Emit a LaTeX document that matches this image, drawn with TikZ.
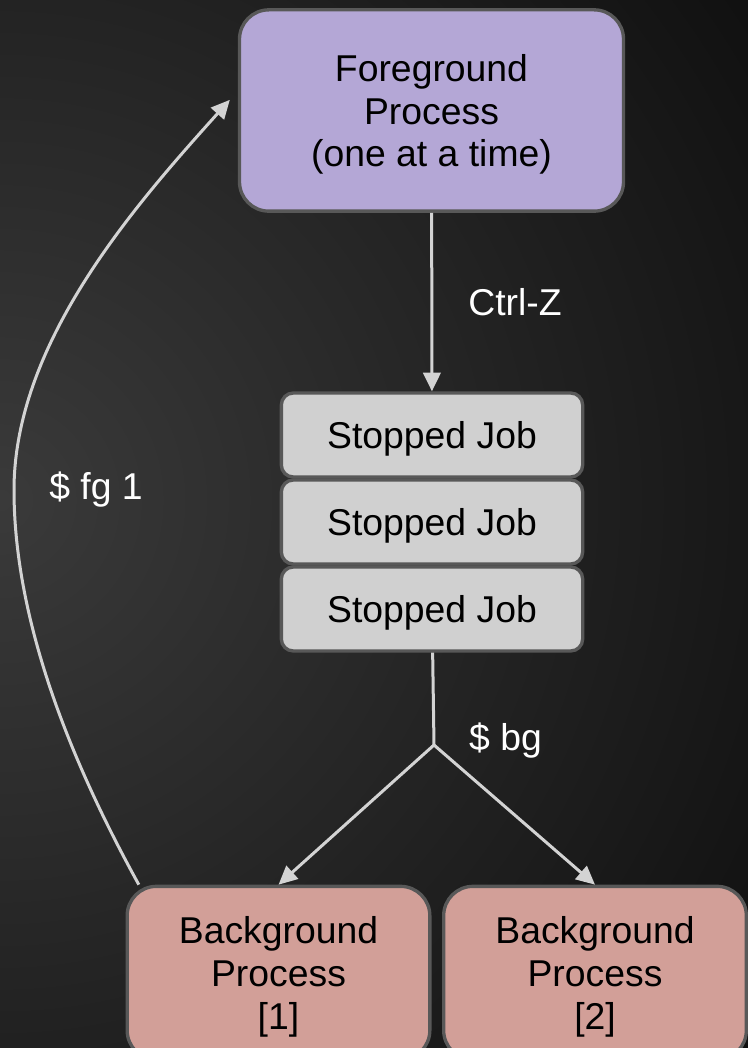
\documentclass[tikz,border=0pt]{standalone}
\usepackage{fontspec}
\setmainfont{Liberation Sans}
\usetikzlibrary{arrows.meta}

\definecolor{fgfill}{HTML}{B4A7D6}
\definecolor{bgfill}{HTML}{D29F98}
\definecolor{jobfill}{HTML}{D0D0D0}
\definecolor{edgegray}{HTML}{585858}
\definecolor{wire}{HTML}{D3D3D3}
\definecolor{shadein}{HTML}{3A3A3A}
\definecolor{shadeout}{HTML}{0C0C0C}

\begin{document}
\begin{tikzpicture}[x=0.75pt,y=-0.75pt,
    bigfont/.style={font=\fontsize{28}{32}\selectfont},
    box/.style={draw=edgegray,line width=2.5pt,rectangle,align=center,inner sep=0pt,text depth=0pt,bigfont},
    fgbox/.style={box,fill=fgfill,rounded corners=22pt,minimum width=288pt,minimum height=151pt},
    jobbox/.style={box,fill=jobfill,rounded corners=9pt,minimum width=226pt,minimum height=63pt},
    bgbox/.style={box,fill=bgfill,rounded corners=22pt,minimum width=227pt,minimum height=130pt},
    wireline/.style={draw=wire,line width=2.25pt},
    arrow/.style={wireline,-{Triangle[length=14pt,width=13pt]}},
    lbl/.style={text=white,anchor=west,bigfont}]
    \useasboundingbox (0,0) rectangle (748,1048);
    % background
    \begin{scope}
      \clip (0,0) rectangle (748,1048);
      \fill[shadeout] (0,0) rectangle (748,1048);
      \shade[inner color=shadein,outer color=shadeout] (0,500) circle (1000);
    \end{scope}

    \node[fgbox] (fg) at (431.5,110.5) {Foreground\\Process\\(one at a time)};
    \node[jobbox] (job1) at (432,435) {Stopped Job};
    \node[jobbox] (job2) at (432,522) {Stopped Job};
    \node[jobbox] (job3) at (432,609) {Stopped Job};
    \node[bgbox] (bg1) at (278.5,973) {Background\\Process\\{[1]}};
    \node[bgbox] (bg2) at (595,973) {Background\\Process\\{[2]}};
    \coordinate (branch) at (434,745);

    \draw[arrow] (fg) -- (job1) node[lbl,midway,xshift=23pt] {Ctrl-Z};
    \draw[wireline] (job3) -- (branch) node[lbl,pos=0.95,xshift=22pt] {\$ bg};
    \draw[arrow] (branch) -- (bg1.north);
    \draw[arrow] (branch) -- (bg2.north);
    \draw[arrow] ([xshift=10pt]bg1.north west)
      .. controls (70,760) and (14,620) .. (14,490) node[lbl,xshift=22pt] {\$ fg 1}
      .. controls (14,340) and (140,200) .. ([xshift=-6pt,yshift=8pt]fg.west);
  \end{tikzpicture}
\end{document}
